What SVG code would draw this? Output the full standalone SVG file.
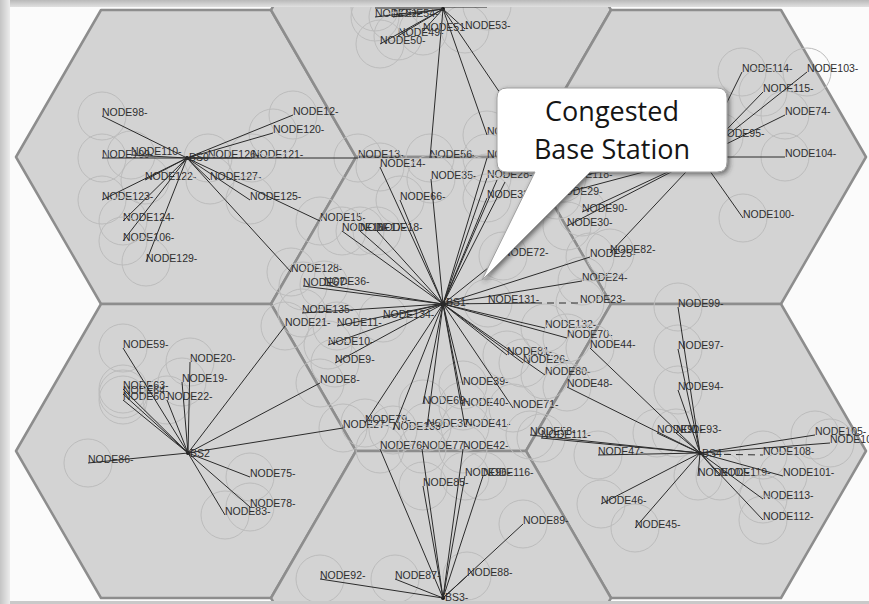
<svg xmlns="http://www.w3.org/2000/svg" width="869" height="604" viewBox="0 0 869 604">
  <defs>
    <style>
      .cell { fill: #d3d3d3; stroke: #8d8d8d; stroke-width: 2.5; stroke-linejoin: round; }
      .cov { fill: none; stroke: #bcbcbc; stroke-width: 1; }
      .lbl { font-family: "Liberation Sans", Arial, sans-serif; font-size: 10.5px; fill: #2e2e2e; }
      .ln { stroke: #2b2b2b; stroke-width: 1; fill: none; }
      .dash { stroke: #2b2b2b; stroke-width: 1; stroke-dasharray: 7 5; }
      .bs { fill: #111; }
      .call { font-family: "Open Sans", "Liberation Sans", sans-serif; font-size: 27px; fill: #151515; text-anchor: middle; }
    </style>
    <clipPath id="frameClip">
      <rect x="10" y="7" width="859" height="594"/>
    </clipPath>
    <linearGradient id="topShade" x1="0" y1="0" x2="0" y2="1">
      <stop offset="0" stop-color="#b9b9b9"/>
      <stop offset="1" stop-color="#e6e6e6"/>
    </linearGradient>
    <linearGradient id="leftShade" x1="0" y1="0" x2="1" y2="0">
      <stop offset="0" stop-color="#c4c4c4"/>
      <stop offset="1" stop-color="#ececec"/>
    </linearGradient>
    <filter id="calloutShadow" x="-10%" y="-10%" width="130%" height="130%">
      <feDropShadow dx="2" dy="2" stdDeviation="2.5" flood-color="#333" flood-opacity="0.65"/>
    </filter>
  </defs>

  <!-- picture frame with soft edge shading -->
  <g id="frame">
    <rect x="0" y="0" width="869" height="604" fill="#e9e9e9"/>
    <rect x="0" y="0" width="869" height="8" fill="url(#topShade)"/>
    <rect x="0" y="0" width="10" height="604" fill="url(#leftShade)"/>
    <rect x="10" y="7" width="859" height="594" fill="#fbfbfb"/>
    <rect x="10" y="601" width="859" height="3" fill="#c9c9c9"/>
  </g>

  <g clip-path="url(#frameClip)">
    <!-- hexagonal cells -->
    <g id="cells">
      <polygon id="cell-bs0" class="cell" points="356,157 271,304 101,304 16,157 101,10 271,10"/>
      <polygon id="cell-top" class="cell" points="611,10 526,157 356,157 271,10 356,-137 526,-137"/>
      <polygon id="cell-topright" class="cell" points="866,157 781,304 611,304 526,157 611,10 781,10"/>
      <polygon id="cell-bs1" class="cell" points="611,304 526,451 356,451 271,304 356,157 526,157"/>
      <polygon id="cell-bs2" class="cell" points="356,451 271,598 101,598 16,451 101,304 271,304"/>
      <polygon id="cell-bs4" class="cell" points="866,451 781,598 611,598 526,451 611,304 781,304"/>
      <polygon id="cell-bs3" class="cell" points="611,598 526,745 356,745 271,598 356,451 526,451"/>
    </g>

    <!-- mobile nodes: coverage circle + label -->
    <g id="nodes">
      <!-- cell of BS0 -->
      <g id="node98"><circle class="cov" cx="102" cy="116" r="24"/><text class="lbl" x="102" y="116">NODE98-</text></g>
      <g id="node109"><circle class="cov" cx="102" cy="158" r="24"/><text class="lbl" x="102" y="158">NODE109-</text></g>
      <g id="node110"><circle class="cov" cx="131" cy="155" r="24"/><text class="lbl" x="131" y="155">NODE110-</text></g>
      <g id="node122"><circle class="cov" cx="145" cy="180" r="24"/><text class="lbl" x="145" y="180">NODE122-</text></g>
      <g id="node123"><circle class="cov" cx="102" cy="200" r="24"/><text class="lbl" x="102" y="200">NODE123-</text></g>
      <g id="node124"><circle class="cov" cx="123" cy="221" r="24"/><text class="lbl" x="123" y="221">NODE124-</text></g>
      <g id="node106"><circle class="cov" cx="123" cy="241" r="24"/><text class="lbl" x="123" y="241">NODE106-</text></g>
      <g id="node129"><circle class="cov" cx="146" cy="262" r="24"/><text class="lbl" x="146" y="262">NODE129-</text></g>
      <g id="node126"><circle class="cov" cx="208" cy="158" r="24"/><text class="lbl" x="208" y="158">NODE126-</text></g>
      <g id="node121"><circle class="cov" cx="252" cy="158" r="24"/><text class="lbl" x="252" y="158">NODE121-</text></g>
      <g id="node127"><circle class="cov" cx="210" cy="180" r="24"/><text class="lbl" x="210" y="180">NODE127-</text></g>
      <g id="node125"><circle class="cov" cx="250" cy="200" r="24"/><text class="lbl" x="250" y="200">NODE125-</text></g>
      <g id="node12"><circle class="cov" cx="293" cy="115" r="24"/><text class="lbl" x="293" y="115">NODE12-</text></g>
      <g id="node120"><circle class="cov" cx="273" cy="133" r="24"/><text class="lbl" x="273" y="133">NODE120-</text></g>
      <g id="node13"><circle class="cov" cx="358" cy="158" r="24"/><text class="lbl" x="358" y="158">NODE13-</text></g>
      <g id="node15"><circle class="cov" cx="320" cy="221" r="24"/><text class="lbl" x="320" y="221">NODE15-</text></g>
      <g id="node128"><circle class="cov" cx="291" cy="272" r="24"/><text class="lbl" x="291" y="272">NODE128-</text></g>

      <!-- top cell -->
      <g id="node55"><circle class="cov" cx="375" cy="7" r="24"/><text class="lbl" x="375" y="7">NODE55-</text></g>
      <g id="node52"><circle class="cov" cx="375" cy="17" r="24"/><text class="lbl" x="375" y="17">NODE52-</text></g>
      <g id="node54"><circle class="cov" cx="393" cy="17" r="24"/><text class="lbl" x="393" y="17">NODE54-</text></g>
      <g id="node57"><circle class="cov" cx="487" cy="6" r="24"/><text class="lbl" x="487" y="6">NODE57-</text></g>
      <g id="node49"><circle class="cov" cx="398" cy="36" r="24"/><text class="lbl" x="398" y="36">NODE49-</text></g>
      <g id="node51"><circle class="cov" cx="423" cy="31" r="24"/><text class="lbl" x="423" y="31">NODE51-</text></g>
      <g id="node53"><circle class="cov" cx="465" cy="29" r="24"/><text class="lbl" x="465" y="29">NODE53-</text></g>
      <g id="node50"><circle class="cov" cx="380" cy="44" r="24"/><text class="lbl" x="380" y="44">NODE50-</text></g>
      <g id="node56"><circle class="cov" cx="430" cy="158" r="24"/><text class="lbl" x="430" y="158">NODE56-</text></g>
      <g id="node34"><circle class="cov" cx="487" cy="135" r="24"/><text class="lbl" x="487" y="135">NODE34-</text></g>

      <!-- cell of BS1 -->
      <g id="node14"><circle class="cov" cx="380" cy="167" r="24"/><text class="lbl" x="380" y="167">NODE14-</text></g>
      <g id="node35"><circle class="cov" cx="431" cy="179" r="24"/><text class="lbl" x="431" y="179">NODE35-</text></g>
      <g id="node66"><circle class="cov" cx="400" cy="200" r="24"/><text class="lbl" x="400" y="200">NODE66-</text></g>
      <g id="node16"><circle class="cov" cx="342" cy="231" r="24"/><text class="lbl" x="342" y="231">NODE16-</text></g>
      <g id="node17"><circle class="cov" cx="360" cy="231" r="24"/><text class="lbl" x="360" y="231">NODE17-</text></g>
      <g id="node18"><circle class="cov" cx="377" cy="231" r="24"/><text class="lbl" x="377" y="231">NODE18-</text></g>
      <g id="node67"><circle class="cov" cx="303" cy="286" r="24"/><text class="lbl" x="303" y="286">NODE67-</text></g>
      <g id="node36"><circle class="cov" cx="324" cy="285" r="24"/><text class="lbl" x="324" y="285">NODE36-</text></g>
      <g id="node135"><circle class="cov" cx="302" cy="313" r="24"/><text class="lbl" x="302" y="313">NODE135-</text></g>
      <g id="node11"><circle class="cov" cx="337" cy="326" r="24"/><text class="lbl" x="337" y="326">NODE11-</text></g>
      <g id="node134"><circle class="cov" cx="383" cy="318" r="24"/><text class="lbl" x="383" y="318">NODE134-</text></g>
      <g id="node10"><circle class="cov" cx="328" cy="345" r="24"/><text class="lbl" x="328" y="345">NODE10-</text></g>
      <g id="node9"><circle class="cov" cx="335" cy="363" r="24"/><text class="lbl" x="335" y="363">NODE9-</text></g>
      <g id="node79"><circle class="cov" cx="365" cy="423" r="24"/><text class="lbl" x="365" y="423">NODE79-</text></g>
      <g id="node133"><circle class="cov" cx="393" cy="430" r="24"/><text class="lbl" x="393" y="430">NODE133-</text></g>
      <g id="node37"><circle class="cov" cx="427" cy="427" r="24"/><text class="lbl" x="427" y="427">NODE37-</text></g>
      <g id="node41"><circle class="cov" cx="465" cy="427" r="24"/><text class="lbl" x="465" y="427">NODE41-</text></g>
      <g id="node69"><circle class="cov" cx="423" cy="404" r="24"/><text class="lbl" x="423" y="404">NODE69-</text></g>
      <g id="node40"><circle class="cov" cx="463" cy="406" r="24"/><text class="lbl" x="463" y="406">NODE40-</text></g>
      <g id="node39"><circle class="cov" cx="463" cy="385" r="24"/><text class="lbl" x="463" y="385">NODE39-</text></g>
      <g id="node71"><circle class="cov" cx="513" cy="408" r="24"/><text class="lbl" x="513" y="408">NODE71-</text></g>
      <g id="node81"><circle class="cov" cx="507" cy="355" r="24"/><text class="lbl" x="507" y="355">NODE81-</text></g>
      <g id="node26"><circle class="cov" cx="523" cy="363" r="24"/><text class="lbl" x="523" y="363">NODE26-</text></g>
      <g id="node80"><circle class="cov" cx="545" cy="375" r="24"/><text class="lbl" x="545" y="375">NODE80-</text></g>
      <g id="node132"><circle class="cov" cx="545" cy="328" r="24"/><text class="lbl" x="545" y="328">NODE132-</text></g>
      <g id="node70"><circle class="cov" cx="567" cy="338" r="24"/><text class="lbl" x="567" y="338">NODE70-</text></g>
      <g id="node131"><circle class="cov" cx="488" cy="303" r="24"/><text class="lbl" x="488" y="303">NODE131-</text></g>
      <g id="node23"><circle class="cov" cx="580" cy="303" r="24"/><text class="lbl" x="580" y="303">NODE23-</text></g>
      <g id="node24"><circle class="cov" cx="582" cy="281" r="24"/><text class="lbl" x="582" y="281">NODE24-</text></g>
      <g id="node25"><circle class="cov" cx="590" cy="257" r="24"/><text class="lbl" x="590" y="257">NODE25-</text></g>
      <g id="node72"><circle class="cov" cx="503" cy="256" r="24"/><text class="lbl" x="503" y="256">NODE72-</text></g>
      <g id="node28"><circle class="cov" cx="487" cy="178" r="24"/><text class="lbl" x="487" y="178">NODE28-</text></g>
      <g id="node33"><circle class="cov" cx="487" cy="198" r="24"/><text class="lbl" x="487" y="198">NODE33-</text></g>
      <g id="node31"><circle class="cov" cx="487" cy="158" r="24"/><text class="lbl" x="487" y="158">NODE31-</text></g>

      <!-- top-right cell -->
      <g id="node114"><circle class="cov" cx="742" cy="72" r="24"/><text class="lbl" x="742" y="72">NODE114-</text></g>
      <g id="node103"><circle class="cov" cx="807" cy="72" r="24"/><text class="lbl" x="807" y="72">NODE103-</text></g>
      <g id="node115"><circle class="cov" cx="763" cy="92" r="24"/><text class="lbl" x="763" y="92">NODE115-</text></g>
      <g id="node74"><circle class="cov" cx="785" cy="115" r="24"/><text class="lbl" x="785" y="115">NODE74-</text></g>
      <g id="node95"><circle class="cov" cx="719" cy="137" r="24"/><text class="lbl" x="719" y="137">NODE95-</text></g>
      <g id="node104"><circle class="cov" cx="785" cy="157" r="24"/><text class="lbl" x="785" y="157">NODE104-</text></g>
      <g id="node100"><circle class="cov" cx="743" cy="218" r="24"/><text class="lbl" x="743" y="218">NODE100-</text></g>
      <g id="node82"><circle class="cov" cx="610" cy="253" r="24"/><text class="lbl" x="610" y="253">NODE82-</text></g>
      <g id="node90"><circle class="cov" cx="582" cy="212" r="24"/><text class="lbl" x="582" y="212">NODE90-</text></g>
      <g id="node30"><circle class="cov" cx="567" cy="226" r="24"/><text class="lbl" x="567" y="226">NODE30-</text></g>
      <g id="node29"><circle class="cov" cx="557" cy="195" r="24"/><text class="lbl" x="557" y="195">NODE29-</text></g>
      <g id="node118"><circle class="cov" cx="562" cy="178" r="24"/><text class="lbl" x="562" y="178">NODE118-</text></g>

      <!-- cell of BS4 -->
      <g id="node99"><circle class="cov" cx="678" cy="307" r="24"/><text class="lbl" x="678" y="307">NODE99-</text></g>
      <g id="node97"><circle class="cov" cx="678" cy="349" r="24"/><text class="lbl" x="678" y="349">NODE97-</text></g>
      <g id="node94"><circle class="cov" cx="678" cy="390" r="24"/><text class="lbl" x="678" y="390">NODE94-</text></g>
      <g id="node91"><circle class="cov" cx="657" cy="433" r="24"/><text class="lbl" x="657" y="433">NODE91-</text></g>
      <g id="node93"><circle class="cov" cx="676" cy="433" r="24"/><text class="lbl" x="676" y="433">NODE93-</text></g>
      <g id="node44"><circle class="cov" cx="590" cy="348" r="24"/><text class="lbl" x="590" y="348">NODE44-</text></g>
      <g id="node48"><circle class="cov" cx="567" cy="387" r="24"/><text class="lbl" x="567" y="387">NODE48-</text></g>
      <g id="node58"><circle class="cov" cx="530" cy="435" r="24"/><text class="lbl" x="530" y="435">NODE58-</text></g>
      <g id="node111"><circle class="cov" cx="541" cy="438" r="24"/><text class="lbl" x="541" y="438">NODE111-</text></g>
      <g id="node47"><circle class="cov" cx="598" cy="455" r="24"/><text class="lbl" x="598" y="455">NODE47-</text></g>
      <g id="node105"><circle class="cov" cx="815" cy="435" r="24"/><text class="lbl" x="815" y="435">NODE105-</text></g>
      <g id="node107"><circle class="cov" cx="830" cy="443" r="24"/><text class="lbl" x="830" y="443">NODE107-</text></g>
      <g id="node108"><circle class="cov" cx="763" cy="455" r="24"/><text class="lbl" x="763" y="455">NODE108-</text></g>
      <g id="node102"><circle class="cov" cx="698" cy="476" r="24"/><text class="lbl" x="698" y="476">NODE102-</text></g>
      <g id="node119"><circle class="cov" cx="720" cy="476" r="24"/><text class="lbl" x="720" y="476">NODE119-</text></g>
      <g id="node101"><circle class="cov" cx="783" cy="476" r="24"/><text class="lbl" x="783" y="476">NODE101-</text></g>
      <g id="node113"><circle class="cov" cx="763" cy="499" r="24"/><text class="lbl" x="763" y="499">NODE113-</text></g>
      <g id="node112"><circle class="cov" cx="763" cy="520" r="24"/><text class="lbl" x="763" y="520">NODE112-</text></g>
      <g id="node46"><circle class="cov" cx="601" cy="504" r="24"/><text class="lbl" x="601" y="504">NODE46-</text></g>
      <g id="node45"><circle class="cov" cx="635" cy="528" r="24"/><text class="lbl" x="635" y="528">NODE45-</text></g>

      <!-- cell of BS2 -->
      <g id="node59"><circle class="cov" cx="123" cy="348" r="24"/><text class="lbl" x="123" y="348">NODE59-</text></g>
      <g id="node20"><circle class="cov" cx="190" cy="362" r="24"/><text class="lbl" x="190" y="362">NODE20-</text></g>
      <g id="node19"><circle class="cov" cx="182" cy="382" r="24"/><text class="lbl" x="182" y="382">NODE19-</text></g>
      <g id="node63"><circle class="cov" cx="123" cy="389" r="24"/><text class="lbl" x="123" y="389">NODE63-</text></g>
      <g id="node64"><circle class="cov" cx="123" cy="394" r="24"/><text class="lbl" x="123" y="394">NODE64-</text></g>
      <g id="node60"><circle class="cov" cx="123" cy="400" r="24"/><text class="lbl" x="123" y="400">NODE60-</text></g>
      <g id="node22"><circle class="cov" cx="167" cy="400" r="24"/><text class="lbl" x="167" y="400">NODE22-</text></g>
      <g id="node86"><circle class="cov" cx="88" cy="463" r="24"/><text class="lbl" x="88" y="463">NODE86-</text></g>
      <g id="node75"><circle class="cov" cx="250" cy="477" r="24"/><text class="lbl" x="250" y="477">NODE75-</text></g>
      <g id="node78"><circle class="cov" cx="250" cy="507" r="24"/><text class="lbl" x="250" y="507">NODE78-</text></g>
      <g id="node83"><circle class="cov" cx="225" cy="515" r="24"/><text class="lbl" x="225" y="515">NODE83-</text></g>
      <g id="node21"><circle class="cov" cx="285" cy="326" r="24"/><text class="lbl" x="285" y="326">NODE21-</text></g>
      <g id="node8"><circle class="cov" cx="320" cy="383" r="24"/><text class="lbl" x="320" y="383">NODE8-</text></g>
      <g id="node27"><circle class="cov" cx="343" cy="428" r="24"/><text class="lbl" x="343" y="428">NODE27-</text></g>

      <!-- cell of BS3 -->
      <g id="node76"><circle class="cov" cx="380" cy="449" r="24"/><text class="lbl" x="380" y="449">NODE76-</text></g>
      <g id="node77"><circle class="cov" cx="422" cy="449" r="24"/><text class="lbl" x="422" y="449">NODE77-</text></g>
      <g id="node42"><circle class="cov" cx="463" cy="449" r="24"/><text class="lbl" x="463" y="449">NODE42-</text></g>
      <g id="node96"><circle class="cov" cx="465" cy="476" r="24"/><text class="lbl" x="465" y="476">NODE96-</text></g>
      <g id="node116"><circle class="cov" cx="483" cy="476" r="24"/><text class="lbl" x="483" y="476">NODE116-</text></g>
      <g id="node85"><circle class="cov" cx="423" cy="486" r="24"/><text class="lbl" x="423" y="486">NODE85-</text></g>
      <g id="node89"><circle class="cov" cx="523" cy="524" r="24"/><text class="lbl" x="523" y="524">NODE89-</text></g>
      <g id="node88"><circle class="cov" cx="467" cy="576" r="24"/><text class="lbl" x="467" y="576">NODE88-</text></g>
      <g id="node92"><circle class="cov" cx="320" cy="579" r="24"/><text class="lbl" x="320" y="579">NODE92-</text></g>
      <g id="node87"><circle class="cov" cx="395" cy="579" r="24"/><text class="lbl" x="395" y="579">NODE87-</text></g>
    </g>

    <!-- base stations -->
    <g id="bs0"><circle class="bs" cx="187" cy="158" r="2"/><text class="lbl" x="189" y="161">BS0</text></g>
    <g id="bs1"><circle class="bs" cx="443" cy="304" r="2.5"/><text class="lbl" x="446" y="306">BS1-</text></g>
    <g id="bs5"><circle class="bs" cx="443" cy="9" r="2"/></g>
    <g id="bs6"><circle class="bs" cx="700" cy="157" r="2"/></g>
    <g id="bs2"><circle class="bs" cx="188" cy="453" r="2"/><text class="lbl" x="190" y="457">BS2</text></g>
    <g id="bs4"><circle class="bs" cx="700" cy="453" r="2"/><text class="lbl" x="702" y="457">BS4</text></g>
    <g id="bs3"><circle class="bs" cx="443" cy="598" r="2"/><text class="lbl" x="445" y="601">BS3-</text></g>

    <!-- station-to-node links -->
    <g id="connectors" class="ln">
      <!-- BS0 -->
      <path d="M187,158 L102,116 M187,158 L102,158 M187,158 L131,155 M187,158 L145,180 M187,158 L102,200 M187,158 L123,221 M187,158 L123,241 M187,158 L146,262 M187,158 L208,158 M187,158 L252,158 M187,158 L210,180 M187,158 L250,200 M187,158 L293,115 M187,158 L273,133 M187,158 L358,158 M187,158 L320,221 M187,158 L291,272"/>
      <!-- top station -->
      <path d="M443,9 L375,17 M443,9 L393,17 M443,8 L375,8 M443,7 L487,7 M443,9 L398,36 M443,9 L423,31 M443,9 L465,29 M443,9 L380,44 M443,9 L430,158 M443,9 L487,135 M443,9 L515,115"/>
      <!-- BS1 -->
      <path d="M443,304 L380,167 M443,304 L431,179 M443,304 L400,200 M443,304 L342,231 M443,304 L360,231 M443,304 L377,231 M443,304 L303,286 M443,304 L324,285 M443,304 L302,313 M443,304 L337,326 M443,304 L383,318 M443,304 L328,345 M443,304 L335,363 M443,304 L365,423 M443,304 L393,430 M443,304 L427,427 M443,304 L465,427 M443,304 L423,404 M443,304 L463,406 M443,304 L463,385 M443,304 L513,408 M443,304 L507,355 M443,304 L523,363 M443,304 L545,375 M443,304 L545,328 M443,304 L567,338 M443,304 L535,303 M443,304 L582,281 M443,304 L590,257 M443,304 L503,256 M443,304 L487,178 M443,304 L487,198 M443,304 L487,158 M443,304 L497,180 M443,304 L505,182"/>
      <line class="dash" x1="535" y1="303" x2="580" y2="303"/>
      <!-- top-right station -->
      <path d="M700,157 L742,72 M700,157 L807,72 M700,157 L763,92 M700,157 L785,115 M700,157 L719,137 M700,157 L785,157 M700,157 L743,218 M700,157 L610,253 M700,157 L582,212 M700,157 L567,226 M700,157 L557,195 M700,157 L562,178"/>
      <!-- BS4 -->
      <path d="M700,453 L678,307 M700,453 L678,349 M700,453 L678,390 M700,453 L657,433 M700,453 L676,433 M700,453 L590,348 M700,453 L567,387 M700,453 L530,435 M700,453 L541,438 M700,453 L598,455 M700,453 L815,435 M700,453 L830,443 M700,453 L698,476 M700,453 L720,476 M700,453 L783,476 M700,453 L763,499 M700,453 L763,520 M700,453 L601,504 M700,453 L635,528"/>
      <line class="dash" x1="700" y1="454" x2="763" y2="455"/>
      <!-- BS2 -->
      <path d="M188,453 L123,348 M188,453 L190,362 M188,453 L182,382 M188,453 L123,389 M188,453 L123,394 M188,453 L123,400 M188,453 L167,400 M188,453 L88,463 M188,453 L250,477 M188,453 L250,507 M188,453 L225,515 M188,453 L285,326 M188,453 L320,383 M188,453 L343,428"/>
      <!-- BS3 -->
      <path d="M443,598 L380,449 M443,598 L422,449 M443,598 L463,449 M443,598 L465,476 M443,598 L483,476 M443,598 L423,486 M443,598 L523,524 M443,598 L467,576 M443,598 L320,579 M443,598 L395,579"/>
    </g>
  </g>

  <!-- annotation callout -->
  <g id="callout">
    <path d="M507,88 H717 Q727,88 727,98 V162 Q727,172 717,172 H590 L482,280 L535,172 H507 Q497,172 497,162 V98 Q497,88 507,88 Z" fill="#ffffff" stroke="#a0a0a0" stroke-width="1" filter="url(#calloutShadow)"/>
    <text class="call" x="612" y="121">Congested</text>
    <text class="call" x="612" y="159">Base Station</text>
  </g>
</svg>
